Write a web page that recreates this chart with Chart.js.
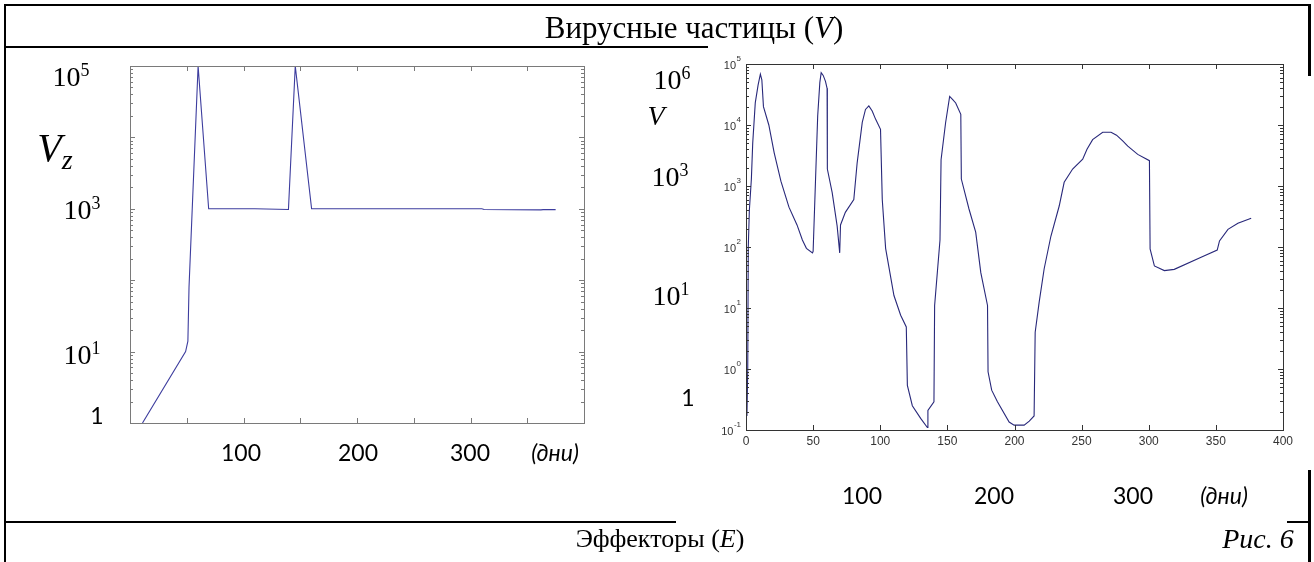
<!DOCTYPE html>
<html><head><meta charset="utf-8">
<script src="https://cdn.jsdelivr.net/npm/chart.js@4"></script>
<style>
html,body{margin:0;padding:0;background:#fff;}
#page{position:relative;width:1314px;height:562px;overflow:hidden;background:#fff;}
canvas{position:absolute;left:0;top:0;}
.t{position:absolute;white-space:nowrap;color:#000;line-height:1;transform:translate(-50%,-50%);}
.serif{font-family:"Liberation Serif","Times New Roman",serif;}
.sans{font-family:Lato,"Noto Sans",sans-serif;}
.ln{position:absolute;background:#000;}
sup{font-size:64%;vertical-align:0;position:relative;top:-0.55em;}
sub{font-size:70%;vertical-align:0;position:relative;top:0.3em;}
</style></head><body>
<div id="page">
  <div class="ln" style="left:4px;top:4px;width:1307px;height:2px"></div>
  <div class="ln" style="left:4px;top:4px;width:2px;height:558px"></div>
  <div class="ln" style="left:4px;top:46px;width:704px;height:2px"></div>
  <div class="ln" style="left:1308px;top:4px;width:3px;height:72px"></div>
  <div class="ln" style="left:4px;top:521px;width:672px;height:2px"></div>
  <div class="ln" style="left:1287px;top:521px;width:24px;height:2px"></div>
  <div class="ln" style="left:1308px;top:470px;width:3px;height:92px"></div>
  <canvas id="cL" width="1314" height="562"></canvas>
  <canvas id="cR" width="1314" height="562"></canvas>

  <div class="t serif" style="left:694px;top:27px;font-size:31px">Вирусные частицы (<i>V</i>)</div>

  <div class="t serif" style="left:71px;top:77px;font-size:28px">10<sup>5</sup></div>
  <div class="t serif" style="left:55px;top:148px;font-size:40px"><i>V</i><sub><i>z</i></sub></div>
  <div class="t serif" style="left:82px;top:210px;font-size:28px">10<sup>3</sup></div>
  <div class="t serif" style="left:82px;top:355px;font-size:28px">10<sup>1</sup></div>
  <div class="t sans" style="left:97px;top:415px;font-size:23px">1</div>
  <div class="t sans" style="left:241px;top:452px;font-size:23px">100</div>
  <div class="t sans" style="left:358px;top:452px;font-size:23px">200</div>
  <div class="t sans" style="left:470px;top:452px;font-size:23px">300</div>
  <div class="t sans" style="left:555px;top:452px;font-size:23px"><i>(дни)</i></div>

  <div class="t serif" style="left:672px;top:80px;font-size:28px">10<sup>6</sup></div>
  <div class="t serif" style="left:656px;top:116px;font-size:28px"><i>V</i></div>
  <div class="t serif" style="left:670px;top:177px;font-size:28px">10<sup>3</sup></div>
  <div class="t serif" style="left:671px;top:296px;font-size:28px">10<sup>1</sup></div>
  <div class="t sans" style="left:688px;top:397px;font-size:23px">1</div>
  <div class="t sans" style="left:862px;top:495px;font-size:23px">100</div>
  <div class="t sans" style="left:994px;top:495px;font-size:23px">200</div>
  <div class="t sans" style="left:1133px;top:495px;font-size:23px">300</div>
  <div class="t sans" style="left:1224px;top:495px;font-size:23px"><i>(дни)</i></div>

  <div class="t serif" style="left:660px;top:539px;font-size:26px">Эффекторы (<i>E</i>)</div>
  <div class="t serif" style="left:1258px;top:539px;font-size:28px"><i>Рис. 6</i></div>
</div>
<script>
// ---- Data: left panel (V_z) ----
const leftDays = [11, 49, 51, 52, 60, 69.3, 110, 139.6, 145.6, 160, 310, 312, 336, 362, 364, 375];
const leftV    = [1, 10, 14, 80, 100000, 1000, 1000, 980, 100000, 1000, 1000, 980, 970, 965, 975, 975];

// ---- Data: right panel (V) ----
const rightDays = [0.7, 1.3, 1.7, 2.5, 4, 5, 6.9, 9, 10.7, 11.8, 13, 17, 21, 26, 32, 38, 42, 45, 49.5,
  50, 51.7, 53.4, 55, 56, 57.5, 59.2, 60.4, 60.6, 64.2, 67.9, 69.8, 70.4, 74, 80.3, 82.8, 86.6, 89, 91.5, 94, 96.5, 100.2,
  101.5, 104, 110.2, 115.2, 119.4, 120.2, 123.9, 130.1, 135.1, 135.5, 140, 140.5, 144.5, 145.3, 148.7, 151.7, 154, 156.2, 160,
  160.4, 166.1, 171.1, 174.9, 179.9, 180.3, 183, 187.3, 196, 199.7, 207.2, 211, 214.6, 215.4, 218.4, 222.1, 227.1, 233.3, 237,
  243.3, 250.8, 254, 258.2, 265.7, 271.9, 276, 280.6, 284.4, 291.8, 300.5, 301, 304.2, 311.6, 319, 339, 351, 352.7, 359, 366.4, 376.3];
const rightV = [0.17, 1.0, 100, 400, 1300, 5000, 23000, 45000, 68000, 55000, 20000, 10000, 3500, 1200, 450, 230, 130, 95, 80,
  85, 1100, 14000, 50000, 72000, 65000, 52000, 40000, 1900, 780, 220, 80, 230, 370, 600, 2400, 11000, 18000, 20500, 17000, 12500, 8500,
  600, 95, 16, 7.6, 4.9, 0.54, 0.25, 0.155, 0.11, 0.21, 0.29, 11, 130, 2700, 11000, 29500, 26000, 23000, 15000,
  1300, 420, 175, 38, 11, 0.9, 0.45, 0.29, 0.135, 0.12, 0.12, 0.14, 0.17, 4, 12.6, 44, 150, 470, 1150,
  1900, 2750, 4000, 5750, 7600, 7600, 6800, 5500, 4500, 3300, 2600, 93, 49, 41, 43, 68, 89, 126, 195, 245, 295];

// ---- Axis ticks ----
const xTicks = [0, 50, 100, 150, 200, 250, 300, 350, 400];
const rightXTickLabels = ['0', '50', '100', '150', '200', '250', '300', '350', '400'];
const leftDecades = [1, 10, 100, 1000, 10000, 100000];
const rightDecades = [0.1, 1, 10, 100, 1000, 10000, 100000];
const rightExponents = ['-1', '0', '1', '2', '3', '4', '5'];

function framePlugin(opts) {
  return {
    id: 'frame' + opts.name,
    afterDatasetsDraw(chart) {
      const ctx = chart.ctx, a = chart.chartArea, xs = chart.scales.x, ys = chart.scales.y;
      ctx.save();
      ctx.strokeStyle = opts.boxColor;
      ctx.lineWidth = 1;
      ctx.strokeRect(Math.round(a.left) + 0.5, Math.round(a.top) + 0.5, Math.round(a.right - a.left), Math.round(a.bottom - a.top));
      ctx.beginPath();
      xTicks.forEach(v => {
        const px = Math.round(xs.getPixelForValue(v)) + 0.5;
        ctx.moveTo(px, a.bottom); ctx.lineTo(px, a.bottom - opts.major);
        ctx.moveTo(px, a.top); ctx.lineTo(px, a.top + opts.major);
      });
      opts.decades.forEach((d, i) => {
        const py = Math.round(ys.getPixelForValue(d)) + 0.5;
        ctx.moveTo(a.left, py); ctx.lineTo(a.left + opts.major, py);
        ctx.moveTo(a.right, py); ctx.lineTo(a.right - opts.major, py);
        if (i < opts.decades.length - 1) {
          for (let k = 2; k <= 9; k++) {
            const pm = Math.round(ys.getPixelForValue(d * k)) + 0.5;
            ctx.moveTo(a.left, pm); ctx.lineTo(a.left + opts.minor, pm);
            ctx.moveTo(a.right, pm); ctx.lineTo(a.right - opts.minor, pm);
          }
        }
      });
      ctx.stroke();
      if (opts.labels) {
        ctx.fillStyle = '#333';
        ctx.font = '12px "Liberation Sans", Arial, sans-serif';
        ctx.textAlign = 'center';
        ctx.textBaseline = 'top';
        xTicks.forEach((v, i) => ctx.fillText(rightXTickLabels[i], xs.getPixelForValue(v), a.bottom + 6));
        opts.decades.forEach((d, i) => {
          const py = ys.getPixelForValue(d);
          ctx.font = '8px "Liberation Sans", Arial, sans-serif';
          ctx.textAlign = 'left'; ctx.textBaseline = 'alphabetic';
          const ew = ctx.measureText(rightExponents[i]).width;
          const ex = a.left - 5 - ew;
          ctx.fillText(rightExponents[i], ex, py - 3);
          ctx.font = '11px "Liberation Sans", Arial, sans-serif';
          ctx.textAlign = 'right';
          ctx.fillText('10', ex - 0.5, py + 5);
        });
      }
      ctx.restore();
    }
  };
}

function makeChart(id, days, vals, color, xr, yr, ymin, ymax, plug) {
  return new Chart(document.getElementById(id), {
    type: 'line',
    data: { datasets: [{ data: days.map((d, i) => ({ x: d, y: vals[i] })), borderColor: color, borderWidth: 1.1,
      pointRadius: 0, tension: 0, fill: false }] },
    options: {
      responsive: false, animation: false, devicePixelRatio: 1, events: [],
      layout: { padding: { left: xr[0], right: 1314 - xr[1], top: yr[0], bottom: 562 - yr[1] } },
      plugins: { legend: { display: false }, tooltip: { enabled: false } },
      scales: {
        x: { type: 'linear', min: 0, max: 400, display: false },
        y: { type: 'logarithmic', min: ymin, max: ymax, display: false }
      }
    },
    plugins: [plug]
  });
}

makeChart('cL', leftDays, leftV, '#3d3d9e', [130, 584], [66, 423], 1, 100000,
  framePlugin({ name: 'L', boxColor: '#7a7a7a', major: 5, minor: 3, decades: leftDecades, labels: false }));
makeChart('cR', rightDays, rightV, '#28287a', [746, 1283], [64, 430], 0.1, 100000,
  framePlugin({ name: 'R', boxColor: '#333', major: 5, minor: 3, decades: rightDecades, labels: true }));
</script>
</body></html>
